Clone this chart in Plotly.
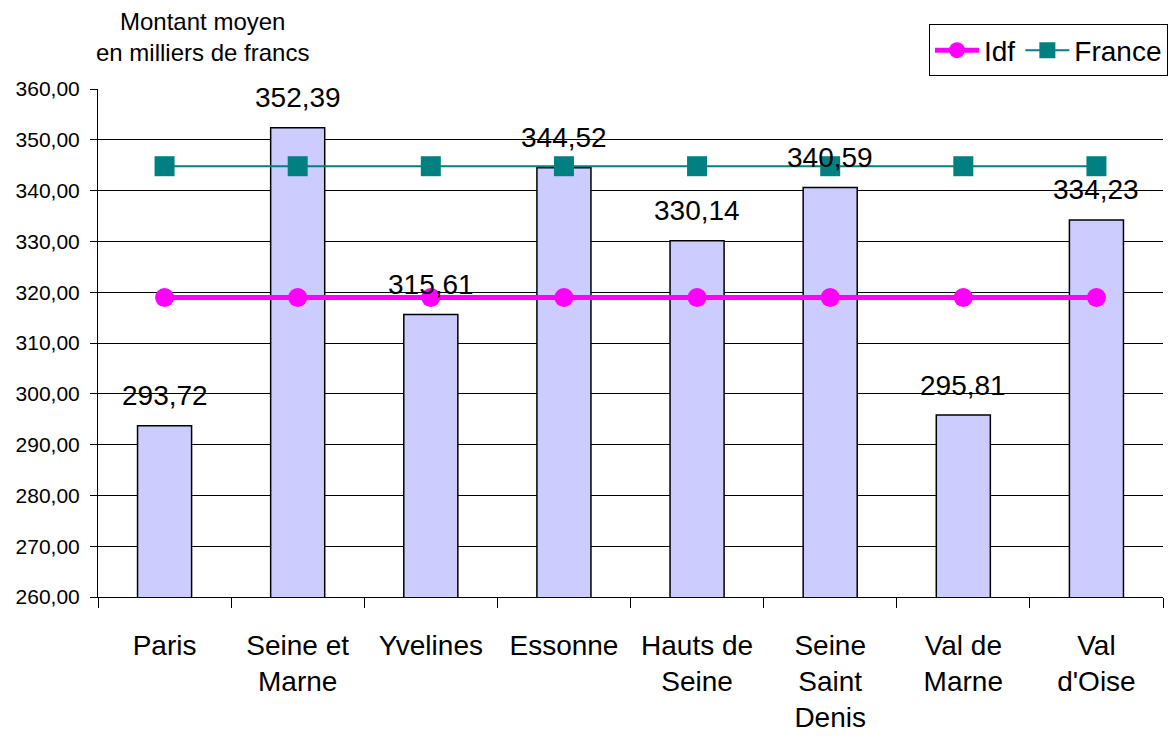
import plotly.graph_objects as go

categories = ["Paris", "Seine et<br>Marne", "Yvelines", "Essonne", "Hauts de<br>Seine",
              "Seine<br>Saint<br>Denis", "Val de<br>Marne", "Val<br>d'Oise"]
montants = [293.72, 352.39, 315.61, 344.52, 330.14, 340.59, 295.81, 334.23]
idf = [318.94] * 8
france = [344.8] * 8
y_ticks = [260, 270, 280, 290, 300, 310, 320, 330, 340, 350, 360]

FONT = "Liberation Sans, Arial, sans-serif"

fig = go.Figure()
fig.add_trace(go.Bar(
    x=categories, y=montants, width=0.406, showlegend=False,
    marker=dict(color="#CCCCFF", line=dict(color="#000000", width=1.5)),
))
fig.add_trace(go.Scatter(
    x=categories, y=idf, name="Idf", mode="lines+markers",
    line=dict(color="#FF00FF", width=5),
    marker=dict(symbol="circle", size=19, color="#FF00FF"),
))
fig.add_trace(go.Scatter(
    x=categories, y=france, name="France", mode="lines+markers",
    line=dict(color="#008080", width=2),
    marker=dict(symbol="square", size=20, color="#008080"),
))

for c, v in zip(categories, montants):
    fig.add_annotation(x=c, y=v, text=f"{v:.2f}".replace(".", ","), showarrow=False,
                       xref="x", yref="y", yanchor="middle", yshift=30,
                       font=dict(family=FONT, size=28, color="#000000"))

fig.add_annotation(xref="paper", yref="paper", x=0.0977, y=1.103, xanchor="center", yanchor="middle",
                   text="Montant moyen<br>en milliers de francs", showarrow=False,
                   font=dict(family=FONT, size=24, color="#000000"))

fig.update_layout(
    width=1169, height=738,
    margin=dict(l=98, r=6, t=88.5, b=141, autoexpand=False),
    paper_bgcolor="white", plot_bgcolor="white",
    separators=", ",
    font=dict(family=FONT, color="#000000"),
    legend=dict(orientation="h", x=1.0047, xanchor="right", y=1.127, yanchor="top",
                bordercolor="#000000", borderwidth=1, bgcolor="white",
                font=dict(family=FONT, size=28, color="#000000"),
                traceorder="normal", itemwidth=44),
    xaxis=dict(type="category", tickson="boundaries", ticks="outside", ticklen=10, tickcolor="#000",
               showline=True, linecolor="#000", linewidth=1, showgrid=False,
               tickfont=dict(family=FONT, size=28, color="#000"), ticklabelstandoff=23,
               range=[-0.5, 7.5]),
    yaxis=dict(range=[260, 360], tickvals=y_ticks, tickformat=".2f", ticks="outside", ticklen=7,
               tickcolor="#000", showline=True, linecolor="#000", linewidth=1,
               showgrid=True, gridcolor="#000", gridwidth=1, zeroline=False,
               tickfont=dict(family=FONT, size=21, color="#000"), ticklabelstandoff=6),
)

fig.write_html("out.html", config={"displayModeBar": False},
               post_script="document.body.style.margin='0';document.body.style.padding='0';document.body.style.overflow='hidden';")
